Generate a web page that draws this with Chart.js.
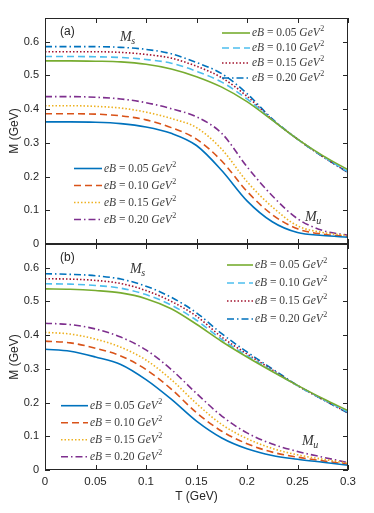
<!DOCTYPE html>
<html>
<head>
<meta charset="utf-8">
<script src="https://cdn.jsdelivr.net/npm/chart.js@4.4.1/dist/chart.umd.min.js"></script>
<style>
  html, body { margin: 0; padding: 0; background: #fff; }
  #wrap { position: relative; width: 374px; height: 513px; overflow: hidden; }
  canvas { position: absolute; left: 0; }
  #chartA { top: 0; }
  #chartB { top: 224px; }
</style>
</head>
<body>
<div id="wrap">
  <canvas id="chartA" width="374" height="260"></canvas>
  <canvas id="chartB" width="374" height="289"></canvas>
</div>
<script>
  // temperature grid (GeV)
  const T_GEV = [0, 0.025, 0.05, 0.075, 0.1, 0.125, 0.15, 0.175, 0.2, 0.225, 0.25, 0.275, 0.3];
  const EB_VALUES = ["0.05", "0.10", "0.15", "0.20"];

  const X_TICKS = [0, 0.05, 0.1, 0.15, 0.2, 0.25, 0.3];
  const X_TICK_LABELS = ["0", "0.05", "0.1", "0.15", "0.2", "0.25", "0.3"];
  const Y_TICKS = [0, 0.1, 0.2, 0.3, 0.4, 0.5, 0.6];
  const Y_TICK_LABELS = ["0", "0.1", "0.2", "0.3", "0.4", "0.5", "0.6"];

  // panel (a), strange quark mass
  const A_MS_005 = [0.543, 0.543, 0.542, 0.540, 0.533, 0.519, 0.496, 0.465, 0.422, 0.367, 0.311, 0.262, 0.220];
  const A_MS_010 = [0.556, 0.556, 0.555, 0.553, 0.547, 0.536, 0.512, 0.480, 0.430, 0.368, 0.311, 0.260, 0.214];
  const A_MS_015 = [0.570, 0.570, 0.570, 0.568, 0.562, 0.551, 0.527, 0.493, 0.438, 0.369, 0.311, 0.259, 0.212];
  const A_MS_020 = [0.585, 0.585, 0.585, 0.583, 0.577, 0.564, 0.538, 0.505, 0.446, 0.371, 0.311, 0.259, 0.212];
  // panel (a), up quark mass
  const A_MU_005 = [0.362, 0.362, 0.361, 0.357, 0.347, 0.328, 0.292, 0.218, 0.128, 0.066, 0.034, 0.025, 0.020];
  const A_MU_010 = [0.386, 0.386, 0.385, 0.380, 0.368, 0.345, 0.311, 0.246, 0.156, 0.087, 0.045, 0.029, 0.022];
  const A_MU_015 = [0.410, 0.410, 0.408, 0.403, 0.391, 0.372, 0.345, 0.281, 0.185, 0.110, 0.054, 0.034, 0.025];
  const A_MU_020 = [0.437, 0.437, 0.435, 0.430, 0.419, 0.401, 0.377, 0.328, 0.229, 0.143, 0.075, 0.040, 0.026];

  // panel (b), strange quark mass
  const B_MS_005 = [0.537, 0.536, 0.532, 0.525, 0.508, 0.478, 0.432, 0.381, 0.335, 0.292, 0.251, 0.212, 0.176];
  const B_MS_010 = [0.552, 0.551, 0.547, 0.539, 0.520, 0.489, 0.444, 0.387, 0.339, 0.294, 0.250, 0.210, 0.172];
  const B_MS_015 = [0.567, 0.566, 0.562, 0.553, 0.532, 0.500, 0.456, 0.394, 0.344, 0.297, 0.250, 0.209, 0.170];
  const B_MS_020 = [0.582, 0.580, 0.576, 0.566, 0.545, 0.512, 0.466, 0.404, 0.350, 0.300, 0.251, 0.209, 0.169];
  // panel (b), up quark mass
  const B_MU_005 = [0.358, 0.352, 0.335, 0.313, 0.268, 0.210, 0.145, 0.095, 0.063, 0.043, 0.032, 0.023, 0.014];
  const B_MU_010 = [0.382, 0.377, 0.361, 0.338, 0.298, 0.240, 0.170, 0.115, 0.078, 0.053, 0.038, 0.027, 0.017];
  const B_MU_015 = [0.408, 0.403, 0.388, 0.364, 0.326, 0.268, 0.197, 0.135, 0.093, 0.064, 0.045, 0.032, 0.020];
  const B_MU_020 = [0.435, 0.431, 0.418, 0.394, 0.356, 0.298, 0.227, 0.160, 0.110, 0.077, 0.055, 0.038, 0.022];

  const MS_STYLES = [
    { color: "#77AC30", dash: [] },
    { color: "#4DBEEE", dash: [7, 4] },
    { color: "#A2142F", dash: [1.5, 2] },
    { color: "#0072BD", dash: [7, 3, 1.5, 3] },
  ];
  const MU_STYLES = [
    { color: "#0072BD", dash: [] },
    { color: "#D95319", dash: [7, 4] },
    { color: "#EDB120", dash: [1.5, 2] },
    { color: "#7E2F8E", dash: [7, 3, 1.5, 3] },
  ];

  const SERIF = "'Liberation Serif', 'DejaVu Serif', serif";
  const SANS = "'Liberation Sans', Arial, sans-serif";
  const INK = "#262626";

  function makeDatasets(msSeries, muSeries) {
    const sets = [];
    msSeries.forEach((arr, i) => sets.push(line(arr, MS_STYLES[i], EB_VALUES[i])));
    muSeries.forEach((arr, i) => sets.push(line(arr, MU_STYLES[i], EB_VALUES[i])));
    return sets;
  }

  function line(arr, style, eb) {
    return {
      label: eb,
      data: arr.map((v, i) => ({ x: T_GEV[i], y: v })),
      borderColor: style.color,
      borderDash: style.dash,
      borderWidth: 1.6,
      pointRadius: 0,
      fill: false,
      cubicInterpolationMode: "monotone",
    };
  }

  // eB = 0.05 GeV^2, in math style
  function drawEq(ctx, x, y, value, size) {
    const parts = [["eB", true], [" = " + value + " ", false], ["GeV", true]];
    let cx = x;
    ctx.fillStyle = "#3c3c3c";
    ctx.textAlign = "left";
    ctx.textBaseline = "middle";
    parts.forEach(([t, it]) => {
      ctx.font = (it ? "italic " : "") + size + "px " + SERIF;
      ctx.fillText(t, cx, y);
      cx += ctx.measureText(t).width;
    });
    ctx.font = Math.round(size * 0.72) + "px " + SERIF;
    ctx.fillText("2", cx + 0.5, y - size * 0.33);
  }

  function drawMass(ctx, x, y, sub) {
    ctx.fillStyle = "#333";
    ctx.textAlign = "left";
    ctx.textBaseline = "middle";
    ctx.font = "italic 14px " + SERIF;
    ctx.fillText("M", x, y);
    const w = ctx.measureText("M").width;
    ctx.font = "italic 10px " + SERIF;
    ctx.fillText(sub, x + w - 0.5, y + 4);
  }

  // boxed frame with inward ticks on all four sides
  const frameTicks = {
    id: "frameTicks",
    afterDraw(chart) {
      const { ctx, chartArea: a, scales } = chart;
      const len = 5;
      ctx.save();
      ctx.strokeStyle = INK;
      ctx.lineWidth = 1;
      ctx.setLineDash([]);
      ctx.strokeRect(a.left + 0.5, a.top + 0.5, a.right - a.left - 1, a.bottom - a.top - 1);
      ctx.beginPath();
      scales.x.ticks.forEach((t) => {
        const x = Math.round(scales.x.getPixelForValue(t.value)) + 0.5;
        ctx.moveTo(x, a.bottom); ctx.lineTo(x, a.bottom - len);
        ctx.moveTo(x, a.top); ctx.lineTo(x, a.top + len);
      });
      scales.y.ticks.forEach((t) => {
        const y = Math.round(scales.y.getPixelForValue(t.value)) + 0.5;
        ctx.moveTo(a.left, y); ctx.lineTo(a.left + len, y);
        ctx.moveTo(a.right, y); ctx.lineTo(a.right - len, y);
      });
      ctx.stroke();
      ctx.restore();
    },
  };

  // two legend blocks and the text notes, positions given in page pixels
  const notes = {
    id: "notes",
    afterDraw(chart, args, opts) {
      const ctx = chart.ctx;
      const off = chart.canvas.offsetTop;
      ctx.save();
      opts.blocks.forEach((b) => {
        b.sets.forEach((di, row) => {
          const ds = chart.data.datasets[di];
          const y = b.y0 + row * b.dy - off;
          ctx.strokeStyle = ds.borderColor;
          ctx.lineWidth = 1.6;
          ctx.setLineDash(ds.borderDash);
          ctx.beginPath();
          ctx.moveTo(b.x0, y);
          ctx.lineTo(b.x1, y);
          ctx.stroke();
          ctx.setLineDash([]);
          drawEq(ctx, b.tx, y, ds.label, 11.5);
        });
      });
      ctx.fillStyle = INK;
      ctx.font = "12px " + SANS;
      ctx.textBaseline = "middle";
      ctx.textAlign = "left";
      ctx.fillText(opts.tag.text, opts.tag.x, opts.tag.y - off);
      drawMass(ctx, opts.ms.x, opts.ms.y - off, "s");
      drawMass(ctx, opts.mu.x, opts.mu.y - off, "u");
      ctx.restore();
    },
  };

  function buildChart(id, msSeries, muSeries, cfg) {
    return new Chart(document.getElementById(id), {
      type: "line",
      data: { datasets: makeDatasets(msSeries, muSeries) },
      options: {
        responsive: false,
        animation: false,
        devicePixelRatio: 1,
        layout: { padding: { top: cfg.padTop, right: 26, left: 0, bottom: 0 } },
        plugins: {
          legend: { display: false },
          tooltip: { enabled: false },
          notes: cfg.notes,
        },
        scales: {
          x: {
            type: "linear",
            min: 0,
            max: 0.3,
            afterBuildTicks: (s) => { s.ticks = X_TICKS.map((v) => ({ value: v })); },
            afterFit: (s) => { s.height = cfg.xHeight; },
            grid: { display: false, drawTicks: false },
            border: { display: false },
            ticks: {
              display: cfg.showX,
              padding: 5,
              color: INK,
              font: { family: SANS, size: 11.5 },
              callback: (v, i) => X_TICK_LABELS[i],
            },
            title: {
              display: cfg.showX,
              text: "T (GeV)",
              color: INK,
              font: { family: SANS, size: 12 },
              padding: { top: 0, bottom: 9 },
            },
          },
          y: {
            min: 0,
            max: 0.67,
            afterBuildTicks: (s) => { s.ticks = Y_TICKS.map((v) => ({ value: v })); },
            afterFit: (s) => { s.width = 45; },
            grid: { display: false, drawTicks: false },
            border: { display: false },
            ticks: {
              padding: 6,
              color: INK,
              font: { family: SANS, size: 11 },
              callback: (v, i) => Y_TICK_LABELS[i],
            },
            title: {
              display: true,
              text: "M (GeV)",
              color: INK,
              font: { family: SANS, size: 12 },
              padding: { top: 7, bottom: 0 },
            },
          },
        },
      },
      plugins: [frameTicks, notes],
    });
  }

  buildChart("chartA", [A_MS_005, A_MS_010, A_MS_015, A_MS_020], [A_MU_005, A_MU_010, A_MU_015, A_MU_020], {
    padTop: 18,
    xHeight: 16,
    showX: false,
    notes: {
      blocks: [
        { sets: [0, 1, 2, 3], x0: 222, x1: 250, tx: 252, y0: 33, dy: 15 },
        { sets: [4, 5, 6, 7], x0: 74, x1: 102, tx: 104, y0: 168.5, dy: 17 },
      ],
      tag: { text: "(a)", x: 60, y: 32 },
      ms: { x: 120, y: 37 },
      mu: { x: 305, y: 217 },
    },
  });

  buildChart("chartB", [B_MS_005, B_MS_010, B_MS_015, B_MS_020], [B_MU_005, B_MU_010, B_MU_015, B_MU_020], {
    padTop: 20,
    xHeight: 43,
    showX: true,
    notes: {
      blocks: [
        { sets: [0, 1, 2, 3], x0: 227, x1: 253, tx: 255, y0: 265, dy: 18 },
        { sets: [4, 5, 6, 7], x0: 61, x1: 88, tx: 90, y0: 405.7, dy: 17 },
      ],
      tag: { text: "(b)", x: 60, y: 258 },
      ms: { x: 130, y: 269 },
      mu: { x: 302, y: 441 },
    },
  });
</script>
</body>
</html>
